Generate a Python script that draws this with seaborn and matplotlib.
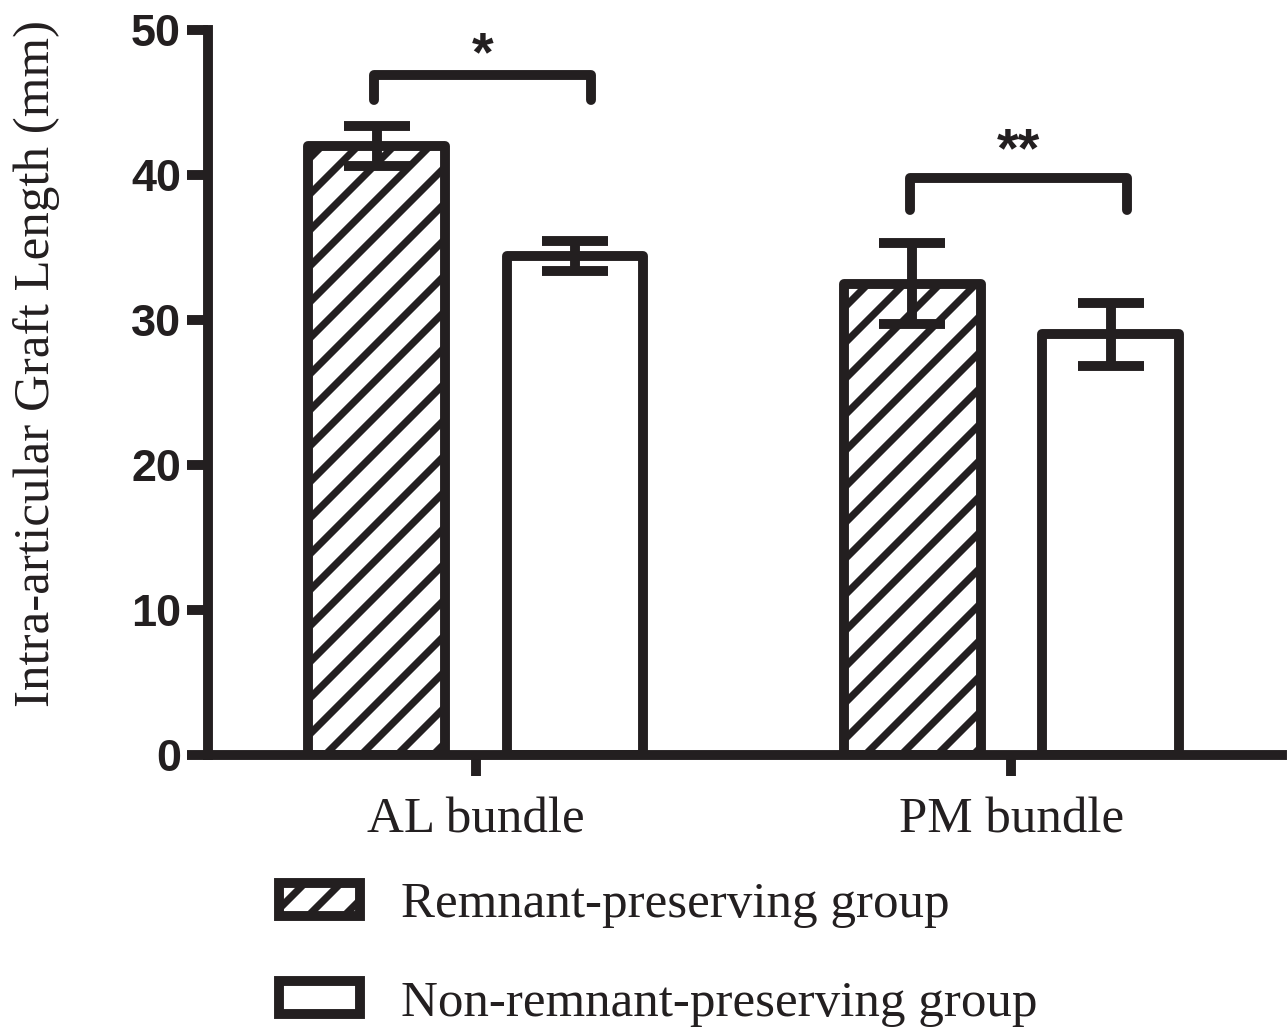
import pandas as pd
import matplotlib
matplotlib.use('Agg')
import matplotlib.pyplot as plt
from matplotlib.patches import Patch
import seaborn as sns

# Data
bundles = ['AL bundle', 'PM bundle']
groups = ['Remnant-preserving group', 'Non-remnant-preserving group']
remnant_mean = [42.0, 32.5]
remnant_err = [1.4, 2.8]
nonremnant_mean = [34.4, 29.0]
nonremnant_err = [1.05, 2.2]
sig_labels = ['*', '**']
sig_bracket_top = [46.9, 39.8]
sig_bracket_leg = [45.2, 37.6]

DARK = '#231f20'
LW = 3.3

df = pd.DataFrame({
    'bundle': bundles * 2,
    'group': [groups[0]] * 2 + [groups[1]] * 2,
    'length': remnant_mean + nonremnant_mean,
})
errs = [remnant_err, nonremnant_err]

sns.set_style('ticks')
plt.rcParams['hatch.linewidth'] = 2.4
plt.rcParams['hatch.color'] = DARK
plt.rcParams['font.family'] = ['Liberation Sans', 'DejaVu Sans']

DPI = 216
fig = plt.figure(figsize=(1288 / DPI, 1031 / DPI), dpi=DPI)
ax = fig.add_axes([0.1615, 0.2677, 0.9953 - 0.1615, 0.971 - 0.2677])

sns.barplot(data=df, x='bundle', y='length', hue='group', order=bundles, hue_order=groups,
            palette=['white', 'white'], edgecolor=DARK, linewidth=LW,
            width=0.74, gap=0.31, errorbar=None, legend=False, ax=ax)

bar_conts = list(ax.containers)
for i, cont in enumerate(bar_conts):
    for j, bar in enumerate(cont.patches):
        bar.set_joinstyle('round')
        if i == 0:
            bar.set_hatch('//')
        cx = bar.get_x() + bar.get_width() / 2
        ax.errorbar(cx, bar.get_height(), yerr=errs[i][j], fmt='none', ecolor=DARK,
                    elinewidth=LW, capsize=11, capthick=LW, zorder=5)

# significance brackets
for k, lab in enumerate(sig_labels):
    x0, x1 = k - 0.19, k + 0.215
    ax.plot([x0, x0, x1, x1], [sig_bracket_leg[k], sig_bracket_top[k], sig_bracket_top[k], sig_bracket_leg[k]],
            color=DARK, lw=LW, solid_joinstyle='round', clip_on=False)
    ax.text((x0 + x1) / 2, sig_bracket_top[k] - 0.5 + 0.5 * k, lab, ha='center', va='bottom',
            fontsize=18.5, fontweight='bold', color=DARK)

ax.set_xlim(-0.5, 1.505)
ax.set_ylim(0, 50)
ax.set_yticks([0, 10, 20, 30, 40, 50])
sns.despine(ax=ax)
for s in ['left', 'bottom']:
    ax.spines[s].set_linewidth(LW)
    ax.spines[s].set_color(DARK)
ax.tick_params(axis='both', width=LW, length=7, color=DARK)
ax.tick_params(axis='y', pad=2)
ax.tick_params(axis='x', pad=7)
for t in ax.get_yticklabels():
    t.set_fontsize(15)
    t.set_fontweight('bold')
    t.set_color(DARK)
for t in ax.get_xticklabels():
    t.set_fontfamily('Liberation Serif')
    t.set_fontsize(17)
    t.set_color(DARK)
ax.set_xlabel('')
ax.set_ylabel('Intra-articular Graft Length (mm)', fontfamily='Liberation Serif',
              fontsize=17, color=DARK)
ax.yaxis.set_label_coords(-0.138, 0.54)

handles = [Patch(facecolor='white', edgecolor=DARK, linewidth=LW, hatch='//', label=groups[0]),
           Patch(facecolor='white', edgecolor=DARK, linewidth=LW, label=groups[1])]
fig.legend(handles=handles, loc='upper left', bbox_to_anchor=(0.2165, 0.145), frameon=False,
           prop={'family': 'Liberation Serif', 'size': 17}, handlelength=1.6,
           handleheight=0.62, handletextpad=0.8, labelspacing=1.02, borderaxespad=0,
           borderpad=0, labelcolor=DARK)

fig.savefig('out.png', dpi=DPI)
